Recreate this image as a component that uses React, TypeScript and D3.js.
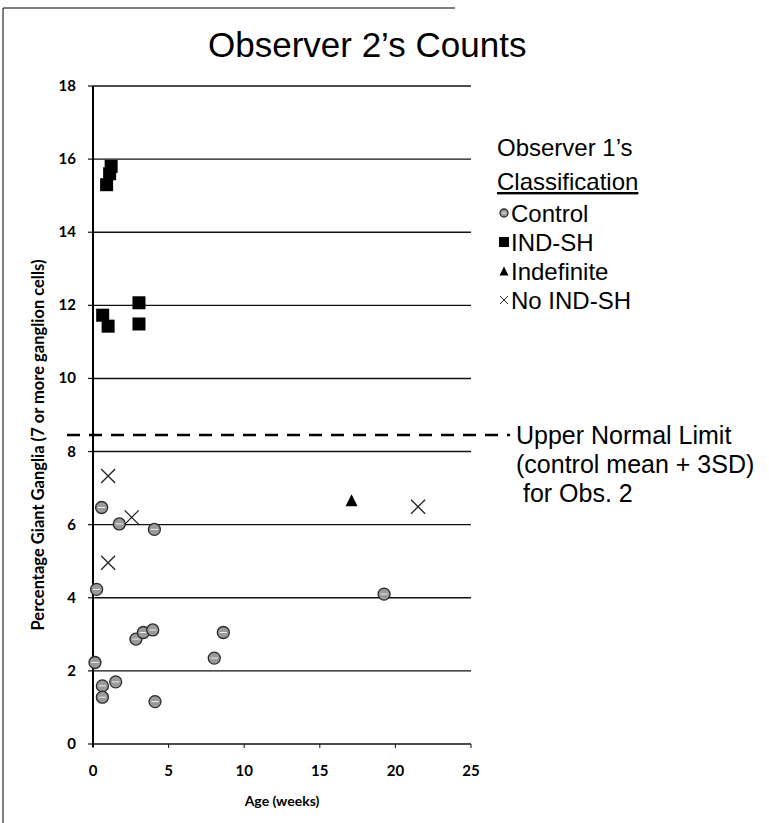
import React from 'react';
import * as d3 from 'd3';

// values: [age in weeks, percentage]
const controlPts: [number, number][] = [
  [0.24, 4.23], [0.13, 2.23], [0.57, 6.47], [1.74, 6.02], [4.06, 5.87],
  [0.62, 1.59], [0.62, 1.28], [1.5, 1.7], [4.1, 1.16], [2.84, 2.87],
  [3.33, 3.05], [3.95, 3.12], [8.62, 3.05], [8.02, 2.35], [19.25, 4.1],
];
const indShPts: [number, number][] = [
  [0.9, 15.3], [1.1, 15.6], [1.2, 15.8], [0.64, 11.73], [1.0, 11.43], [3.04, 12.07], [3.04, 11.49],
];
const indefinitePts: [number, number][] = [[17.1, 6.67]];
const noIndShPts: [number, number][] = [[1.0, 7.33], [1.0, 4.96], [2.56, 6.2], [21.5, 6.49]];

const upperLimit = 8.45;
const xTicks = [0, 5, 10, 15, 20, 25];
const yTicks = [0, 2, 4, 6, 8, 10, 12, 14, 16, 18];
const legendItems = ['Control', 'IND-SH', 'Indefinite', 'No IND-SH'];
const limitLabel = ['Upper Normal Limit', '(control mean + 3SD)', ' for Obs. 2'];

const W = 769;
const H = 823;
const sans = '"Liberation Sans", Arial, sans-serif';
const axisFont = 'Lato, "Open Sans", sans-serif';

const x = d3.scaleLinear().domain([0, 25]).range([93, 471]);
const y = d3.scaleLinear().domain([0, 18]).range([744, 86]);

const Circle = ({ cx, cy, r = 6 }) => (
  <g>
    <circle cx={cx} cy={cy} r={r} fill="#9a9a9a" stroke="#2a2a2a" strokeWidth={1.3} />
    <line x1={cx - r * 0.6} x2={cx + r * 0.6} y1={cy} y2={cy} stroke="#eee" strokeWidth={1} />
  </g>
);
const Square = ({ cx, cy, s = 13 }) => (
  <rect x={cx - s / 2} y={cy - s / 2} width={s} height={s} fill="#000" />
);
const Tri = ({ cx, cy, s = 12 }) => (
  <path d={`M${cx},${cy - s / 2}L${cx + s / 2},${cy + s / 2}L${cx - s / 2},${cy + s / 2}Z`} fill="#000" />
);
const Cross = ({ cx, cy, s = 7, w = 1.3 }) => (
  <path d={`M${cx - s},${cy - s}L${cx + s},${cy + s}M${cx - s},${cy + s}L${cx + s},${cy - s}`} stroke="#222" strokeWidth={w} fill="none" />
);

export default function App() {
  const lx = 504;
  const legendY = [213, 242, 271, 300];
  return (
    <svg width={W} height={H} style={{ position: 'absolute', left: 0, top: 0, background: '#fff' }}>
      {/* frame */}
      <line x1={3} x2={3} y1={8} y2={H} stroke="#000" strokeWidth={1} />
      <line x1={3} x2={455} y1={8} y2={8} stroke="#000" strokeWidth={1} />

      <text x={208} y={57} fontFamily={sans} fontSize={35}>Observer 2’s Counts</text>

      {/* gridlines */}
      {yTicks.filter(t => t > 0).map(t => (
        <line key={t} x1={x(0)} x2={x(25)} y1={y(t)} y2={y(t)} stroke="#111" strokeWidth={1.4} />
      ))}
      {yTicks.map(t => (
        <g key={'yt' + t}>
          <line x1={x(0) - 5} x2={x(0)} y1={y(t)} y2={y(t)} stroke="#111" strokeWidth={1.2} />
          <text x={76} y={y(t) + 5} textAnchor="end" fontFamily={axisFont} fontWeight="bold" fontSize={15}>{t}</text>
        </g>
      ))}
      <line x1={x(0)} x2={x(0)} y1={y(18)} y2={y(0) + 3} stroke="#000" strokeWidth={2} />
      <line x1={x(0)} x2={x(25)} y1={y(0)} y2={y(0)} stroke="#111" strokeWidth={1.4} />
      {xTicks.map(t => (
        <g key={'xt' + t}>
          <line x1={x(t)} x2={x(t)} y1={y(0)} y2={y(0) + 4} stroke="#111" strokeWidth={1} />
          <text x={x(t)} y={y(0) + 32} textAnchor="middle" fontFamily={axisFont} fontWeight="bold" fontSize={15}>{t}</text>
        </g>
      ))}
      <text x={282} y={806} textAnchor="middle" fontFamily={axisFont} fontWeight="bold" fontSize={14}>Age (weeks)</text>
      <text transform={`translate(44,445) rotate(-90)`} textAnchor="middle" fontFamily={axisFont} fontWeight="bold" fontSize={16.5}>
        Percentage Giant Ganglia  (7 or more ganglion cells)
      </text>

      {/* upper normal limit */}
      <line x1={67} x2={510} y1={y(upperLimit)} y2={y(upperLimit)} stroke="#000" strokeWidth={2.5} strokeDasharray="13,9" />
      {limitLabel.map((t, i) => (
        <text key={i} x={516} y={y(upperLimit) + 9 + i * 29} fontFamily={sans} fontSize={25} style={{ whiteSpace: 'pre' }}>{t}</text>
      ))}

      {/* points */}
      {controlPts.map((d, i) => <Circle key={'c' + i} cx={x(d[0])} cy={y(d[1])} />)}
      {indShPts.map((d, i) => <Square key={'s' + i} cx={x(d[0])} cy={y(d[1])} />)}
      {indefinitePts.map((d, i) => <Tri key={'t' + i} cx={x(d[0])} cy={y(d[1])} />)}
      {noIndShPts.map((d, i) => <Cross key={'x' + i} cx={x(d[0])} cy={y(d[1])} />)}

      {/* legend */}
      <text x={497} y={156} fontFamily={sans} fontSize={24}>Observer 1’s</text>
      <text x={497} y={190} fontFamily={sans} fontSize={24} textDecoration="underline">Classification</text>
      {legendItems.map((name, i) => {
        const cy = legendY[i];
        return (
          <g key={name}>
            {i === 0 && <Circle cx={lx} cy={cy} r={4} />}
            {i === 1 && <Square cx={lx} cy={cy} s={10} />}
            {i === 2 && <Tri cx={lx} cy={cy} s={9} />}
            {i === 3 && <Cross cx={lx} cy={cy} s={4} w={1} />}
            <text x={511} y={cy + 9} fontFamily={sans} fontSize={24}>{name}</text>
          </g>
        );
      })}
    </svg>
  );
}
